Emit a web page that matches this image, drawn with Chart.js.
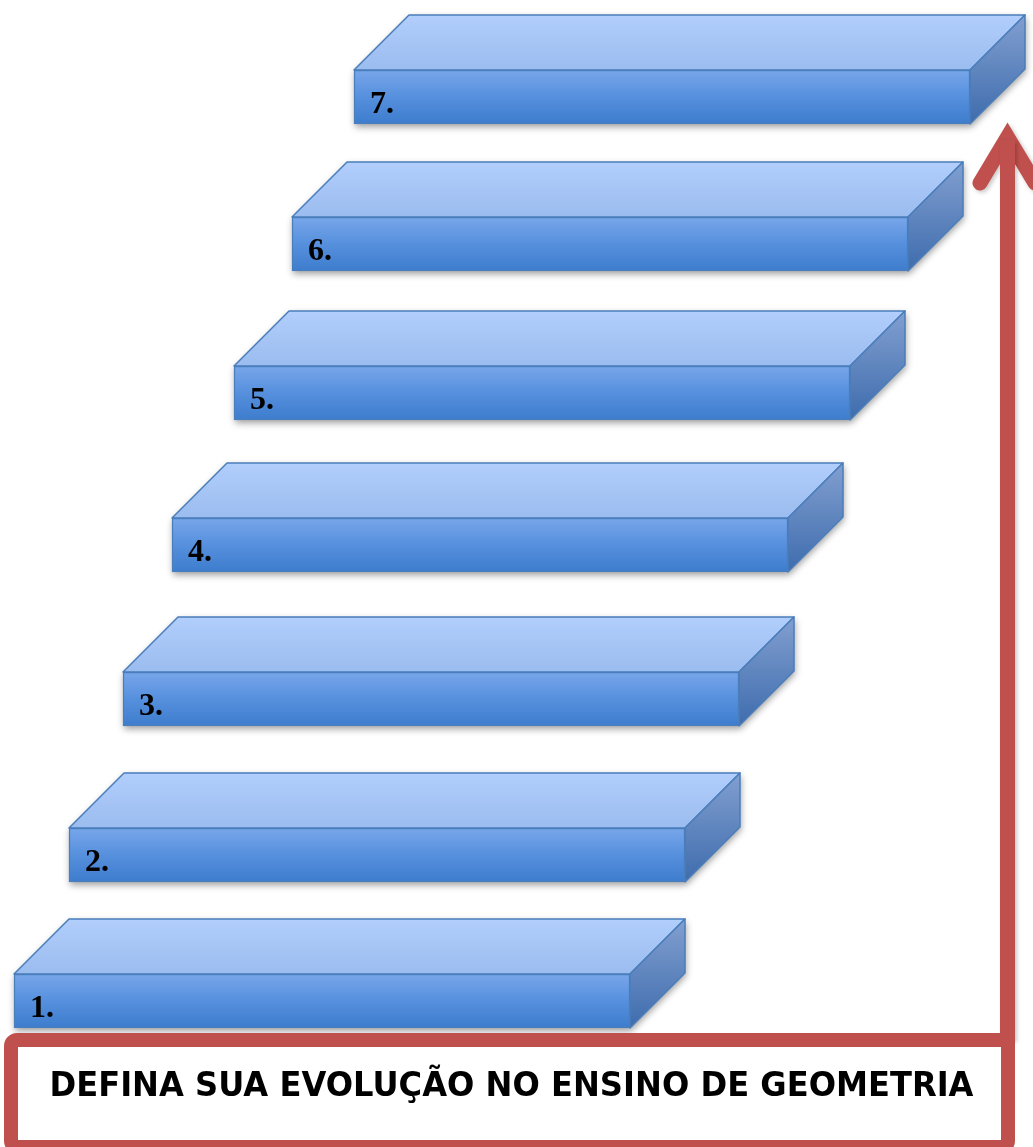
<!DOCTYPE html>
<html>
<head>
<meta charset="utf-8">
<script src="https://cdn.jsdelivr.net/npm/chart.js@4.4.0/dist/chart.umd.min.js"></script>
<style>
  html, body { margin: 0; padding: 0; background: #fff; }
  #stairs { display: block; }
</style>
</head>
<body>
<canvas id="stairs" width="1033" height="1147"></canvas>
<script>
// steps, bottom to top (units: x across, y down)
const stepLabels = ['1.', '2.', '3.', '4.', '5.', '6.', '7.'];
const stepStart = [14, 69, 123, 172, 234, 292, 354];
const stepEnd = [630, 685, 739, 788, 850, 908, 970];
const stepLevel = [1001, 855, 699, 545, 393, 244, 97];

// red arrow up the right side
const arrowShaft = [{x: 1007.5, y: 1040}, {x: 1007.5, y: 140}];
const arrowHead = [{x: 980, y: 183}, {x: 1007.5, y: 137}, {x: 1035, y: 183}];

// caption box at the bottom
const noteText = 'DEFINA SUA EVOLUÇÃO NO ENSINO DE GEOMETRIA';
const noteX = [11, 1008];
const noteY = [1040, 1147];
const noteBaseline = 1096;

const FACE = 54;     // front face height
const DEPTH = 55;    // 3d offset of top/side faces
const EDGE = '#4A7EBB';
const RED = '#C0504D';

const ctx = document.getElementById('stairs').getContext('2d');

function boxOf(el) {
    const p = el.getProps(['x', 'y', 'base', 'height'], true);
    return { l: p.base, r: p.x, t: p.y - p.height / 2, b: p.y + p.height / 2 };
}

function frontFill(c) {
    const chart = c.chart;
    if (!chart.chartArea || !c.raw) return '#5b90dc';
    const mid = chart.scales.y.getPixelForValue(c.raw.y);
    const g = chart.ctx.createLinearGradient(0, mid - FACE / 2, 0, mid + FACE / 2);
    g.addColorStop(0, '#78A6EA');
    g.addColorStop(0.5, '#5690DD');
    g.addColorStop(1, '#3D7CCD');
    return g;
}

const stairsPlugin = {
    id: 'stairs',
    beforeDatasetsDraw(chart) {
        const c = chart.ctx;
        const meta = chart.getDatasetMeta(0);
        meta.data.forEach(el => {
            const {l, r, t, b} = boxOf(el);
            // soft shadow under the whole block
            c.save();
            c.shadowColor = 'rgba(0,0,0,0.38)';
            c.shadowBlur = 7;
            c.shadowOffsetX = 1;
            c.shadowOffsetY = 3;
            c.fillStyle = '#5b90dc';
            c.beginPath();
            c.moveTo(l, t);
            c.lineTo(l + DEPTH, t - DEPTH);
            c.lineTo(r + DEPTH, t - DEPTH);
            c.lineTo(r + DEPTH, b - DEPTH);
            c.lineTo(r, b);
            c.lineTo(l, b);
            c.closePath();
            c.fill();
            c.restore();

            c.save();
            c.lineWidth = 1.5;
            c.strokeStyle = EDGE;
            c.lineJoin = 'round';
            // top face
            let g = c.createLinearGradient(0, t - DEPTH, 0, t);
            g.addColorStop(0, '#B1CEFC');
            g.addColorStop(1, '#9BBCEF');
            c.fillStyle = g;
            c.beginPath();
            c.moveTo(l, t);
            c.lineTo(l + DEPTH, t - DEPTH);
            c.lineTo(r + DEPTH, t - DEPTH);
            c.lineTo(r, t);
            c.closePath();
            c.fill();
            c.stroke();
            // side face
            g = c.createLinearGradient(0, t - DEPTH, 0, b);
            g.addColorStop(0, '#829FD0');
            g.addColorStop(1, '#3E6CAD');
            c.fillStyle = g;
            c.beginPath();
            c.moveTo(r, t);
            c.lineTo(r + DEPTH, t - DEPTH);
            c.lineTo(r + DEPTH, b - DEPTH);
            c.lineTo(r, b);
            c.closePath();
            c.fill();
            c.stroke();
            c.restore();
        });
    },
    // light shadow on the arrow
    beforeDatasetDraw(chart, args) {
        if (args.index === 0) return;
        const c = chart.ctx;
        c.save();
        c.shadowColor = 'rgba(0,0,0,0.22)';
        c.shadowBlur = 4;
        c.shadowOffsetX = 2;
        c.shadowOffsetY = 2;
    },
    afterDatasetDraw(chart, args) {
        if (args.index === 0) return;
        chart.ctx.restore();
    },
    afterDatasetsDraw(chart) {
        const c = chart.ctx;
        const xs = chart.scales.x, ys = chart.scales.y;

        // step numbers
        const meta = chart.getDatasetMeta(0);
        c.save();
        c.fillStyle = '#000';
        c.font = 'bold 32px "Liberation Serif", "Times New Roman", serif';
        c.textBaseline = 'alphabetic';
        meta.data.forEach((el, i) => {
            const {l, t, b} = boxOf(el);
            c.fillText(stepLabels[i], l + 16, (t + b) / 2 + 16);
        });
        c.restore();

        // caption box
        const x0 = xs.getPixelForValue(noteX[0]), x1 = xs.getPixelForValue(noteX[1]);
        const y0 = ys.getPixelForValue(noteY[0]), y1 = ys.getPixelForValue(noteY[1]);
        c.save();
        c.fillStyle = '#fff';
        c.strokeStyle = RED;
        c.lineWidth = 14;
        c.beginPath();
        c.roundRect(x0, y0, x1 - x0, y1 - y0, [6, 0, 6, 6]);
        c.fill();
        c.stroke();

        c.fillStyle = '#000';
        c.font = 'bold 34px "DejaVu Sans", sans-serif';
        c.textAlign = 'center';
        c.textBaseline = 'alphabetic';
        const w = c.measureText(noteText).width;
        const target = 924;
        const cx = (x0 + x1) / 2 + 2;
        c.translate(cx, ys.getPixelForValue(noteBaseline));
        c.scale(target / w, 1);
        c.fillText(noteText, 0, 0);
        c.restore();
    }
};

new Chart(ctx, {
    type: 'bar',
    data: {
        datasets: [{
            label: 'Degraus',
            indexAxis: 'y',
            data: stepLevel.map((lvl, i) => ({ y: lvl, x: [stepStart[i], stepEnd[i]] })),
            backgroundColor: frontFill,
            borderColor: EDGE,
            borderWidth: 1.5,
            borderSkipped: false,
            barThickness: FACE,
            clip: false
        }, {
            type: 'line',
            label: 'Seta',
            data: arrowShaft,
            borderColor: RED,
            borderWidth: 15,
            borderCapStyle: 'butt',
            pointRadius: 0,
            tension: 0,
            clip: false
        }, {
            type: 'line',
            label: 'Ponta',
            data: arrowHead,
            borderColor: RED,
            borderWidth: 15,
            borderCapStyle: 'round',
            borderJoinStyle: 'miter',
            pointRadius: 0,
            tension: 0,
            clip: false
        }]
    },
    options: {
        responsive: false,
        animation: false,
        events: [],
        layout: { padding: 0 },
        plugins: {
            legend: { display: false },
            tooltip: { enabled: false }
        },
        scales: {
            x: { type: 'linear', min: 0, max: 1033, offset: false, display: false },
            y: { type: 'linear', min: 0, max: 1147, offset: false, reverse: true, display: false }
        }
    },
    plugins: [stairsPlugin]
});
</script>
</body>
</html>
